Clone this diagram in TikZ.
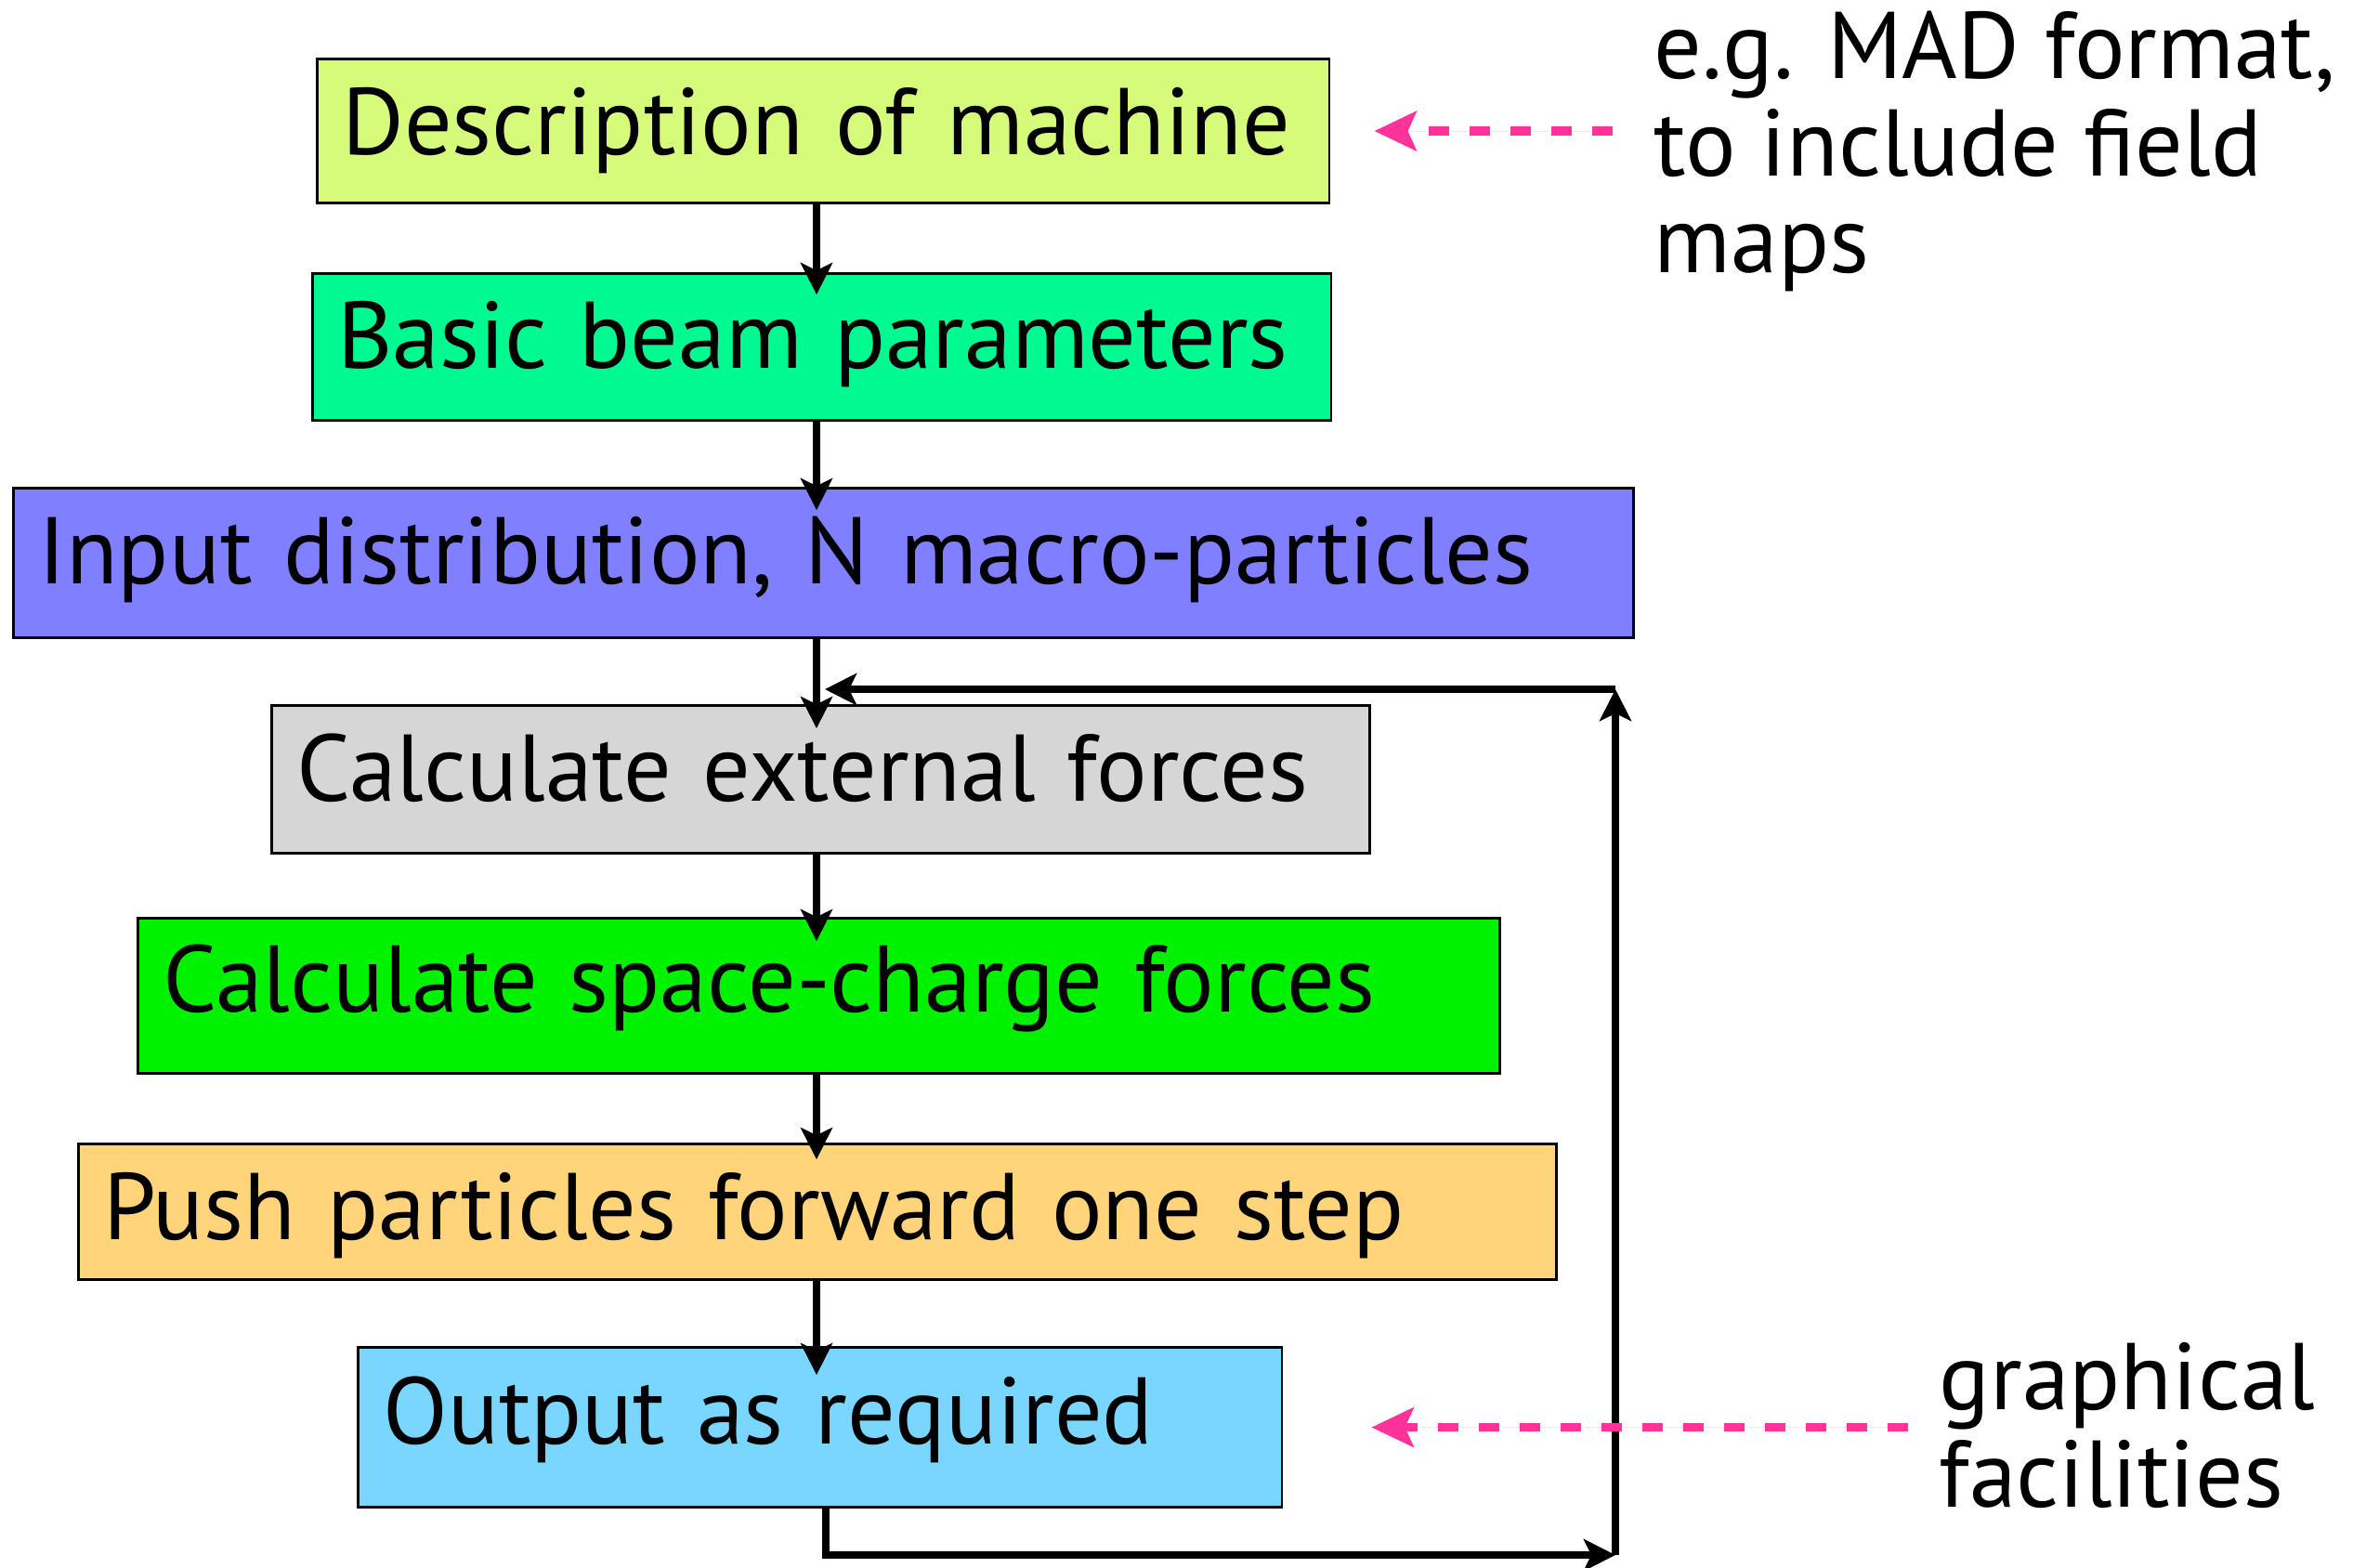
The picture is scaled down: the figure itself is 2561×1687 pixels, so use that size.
\documentclass[tikz,border=0pt]{standalone}
\usepackage{fontspec}
\setmainfont{PT Sans}
\usetikzlibrary{arrows.meta,calc}

\definecolor{machinefill}{RGB}{214,251,123}
\definecolor{beamfill}{RGB}{0,250,146}
\definecolor{inputfill}{RGB}{127,127,255}
\definecolor{externalfill}{RGB}{214,214,214}
\definecolor{chargefill}{RGB}{0,242,0}
\definecolor{pushfill}{RGB}{255,212,122}
\definecolor{outputfill}{RGB}{120,214,255}
\definecolor{hintpink}{RGB}{255,51,153}

\tikzset{
  stage/.style={draw=black, line width=0.8pt, anchor=south west, align=left,
    inner xsep=0.27cm, inner ysep=0pt, font=\fontsize{29}{33}\selectfont},
  flow/.style={-{Stealth[length=0.34cm,width=0.34cm,inset=0.08cm]}, line width=2pt},
  feedback/.style={-{Stealth[length=0.34cm,width=0.34cm,inset=0.08cm]}, line width=2.3pt},
  hint/.style={-{Stealth[length=0.45cm,width=0.42cm,inset=0.09cm]}, draw=hintpink,
    fill=hintpink, line width=2.8pt, dash pattern=on 0.22cm off 0.22cm},
  aside/.style={anchor=north west, align=left, inner sep=0pt,
    font=\fontsize{29}{29.8}\selectfont}
}

\begin{document}
\begin{tikzpicture}[x=0.01cm, y=-0.01cm]
  \useasboundingbox (0,0) rectangle (2561,1687);

  % the steps
  \node[stage, fill=machinefill, text width=10.35cm, text height=1.03cm, text depth=0.52cm] (desc) at (340,220) {Description of machine};
  \node[stage, fill=beamfill, text width=10.42cm, text height=1.02cm, text depth=0.56cm] (beam) at (335,454) {Basic beam parameters};
  \node[stage, fill=inputfill, text width=16.89cm, text height=1.03cm, text depth=0.58cm] (input) at (13,688) {Input distribution, N macro-particles};
  \node[stage, fill=externalfill, text width=11.27cm, text height=1.03cm, text depth=0.56cm] (external) at (291,920) {Calculate external forces};
  \node[stage, fill=chargefill, text width=14.11cm, text height=1.01cm, text depth=0.66cm] (charge) at (147,1157) {Calculate space-charge forces};
  \node[stage, fill=pushfill, text width=15.36cm, text height=1.03cm, text depth=0.43cm] (push) at (83,1379) {Push particles forward one step};
  \node[stage, fill=outputfill, text width=9.40cm, text height=1.04cm, text depth=0.68cm] (output) at (384,1624) {Output as required};

  % side remarks
  \node[aside] (madnote) at (1780,11) {e.g. MAD format,\\to include field\\maps};
  \node[aside] (graphnote) at (2087,1445) {graphical\\facilities};

  \coordinate (spine) at (879,0);
  \coordinate (loopbottom) at (1739,1674);
  \coordinate (looptop) at (1739,742);

  % main flow
  \draw[flow] (desc.south -| spine) -- ([yshift=-0.24cm]beam.north -| spine);
  \draw[flow] (beam.south -| spine) -- ([yshift=-0.25cm]input.north -| spine);
  \draw[flow] (input.south -| spine) -- ([yshift=-0.26cm]external.north -| spine);
  \draw[flow] (external.south -| spine) -- ([yshift=-0.26cm]charge.north -| spine);
  \draw[flow] (charge.south -| spine) -- ([yshift=-0.18cm]push.north -| spine);
  \draw[flow] (push.south -| spine) -- ([yshift=-0.31cm]output.north -| spine);

  % loop back
  \draw[feedback] ([xshift=0.06cm]output.south) |- (loopbottom);
  \draw[feedback] (loopbottom) -- (looptop);
  \draw[feedback] (looptop) -- ([xshift=0.09cm]spine |- looptop);

  % remarks pointing in
  \draw[hint] ([xshift=-0.44cm]madnote.west |- desc.east) -- ([xshift=0.47cm]desc.east);
  \draw[hint] ([xshift=-0.33cm]graphnote.west |- output.east) -- ([xshift=0.95cm]output.east);
\end{tikzpicture}
\end{document}
